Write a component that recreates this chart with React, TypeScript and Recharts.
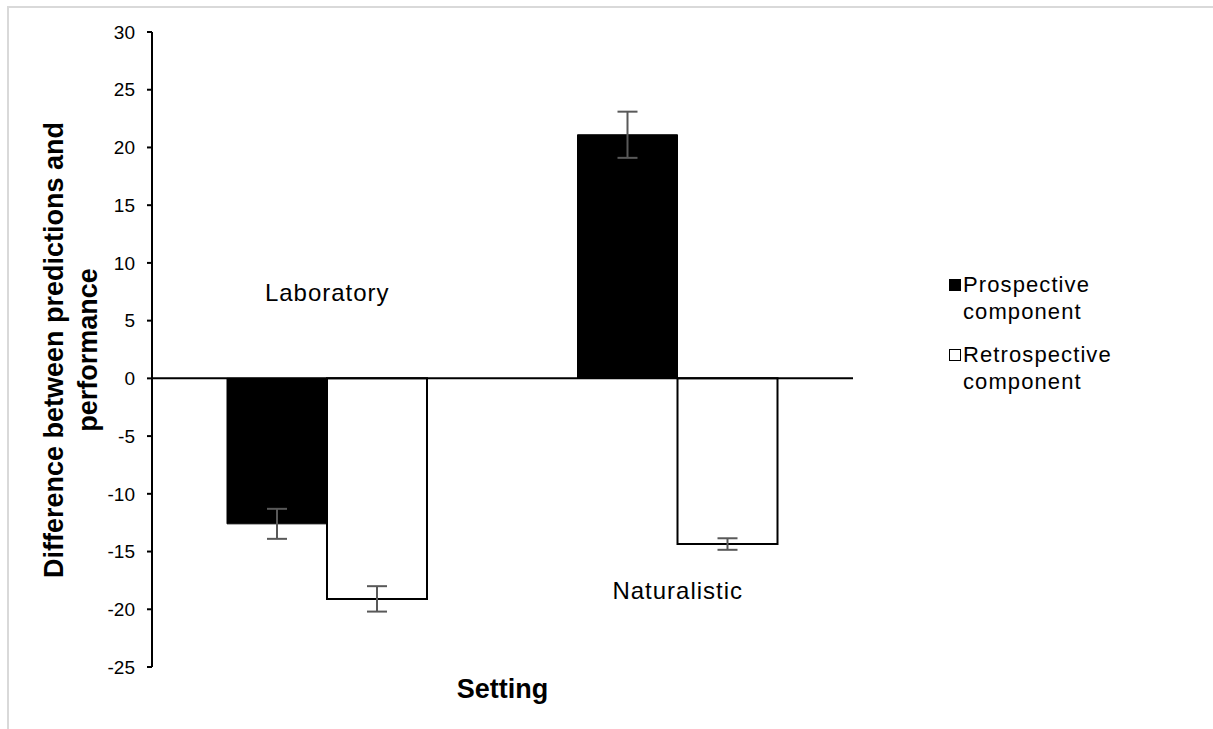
import React from 'react';
import {
  BarChart,
  Bar,
  XAxis,
  YAxis,
  ErrorBar,
  ReferenceLine,
  ReferenceDot,
} from 'recharts';

// ─── Data ─────────────────────────────────────────────────────────────────────

const settings = ['Laboratory', 'Naturalistic'];
const prospective = [-12.6, 21.1];
const prospectiveErr = [1.3, 2.0];
const retrospective = [-19.1, -14.35];
const retrospectiveErr = [1.1, 0.5];
const yTicks = [30, 25, 20, 15, 10, 5, 0, -5, -10, -15, -20, -25];

const seriesNames = ['Prospective component', 'Retrospective component'];

const data = settings.map((s, i) => ({
  setting: s,
  pro: prospective[i],
  proErr: prospectiveErr[i],
  retro: retrospective[i],
  retroErr: retrospectiveErr[i],
}));

const FONT = '"Liberation Sans", Arial, sans-serif';

// ─── Axis title ───────────────────────────────────────────────────────────────

function YTitle() {
  const common = {
    textAnchor: 'middle' as const,
    dominantBaseline: 'central' as const,
    fontFamily: FONT,
    fontWeight: 700,
    fontSize: 27,
    fill: '#000',
  };
  return (
    <g>
      <text x={54} y={350} transform="rotate(-90 54 350)" {...common}>
        Difference between predictions and
      </text>
      <text x={88} y={350} transform="rotate(-90 88 350)" {...common}>
        performance
      </text>
    </g>
  );
}

// ─── Legend ───────────────────────────────────────────────────────────────────

function LegendBox() {
  const fills = ['#000', '#fff'];
  return (
    <div
      style={{
        position: 'absolute',
        left: 949,
        top: 271,
        fontFamily: FONT,
        fontSize: 22,
        letterSpacing: 1.1,
        color: '#000',
      }}
    >
      {seriesNames.map((name, i) => {
        const [first, second] = name.split(' ');
        return (
          <div
            key={name}
            style={{ display: 'flex', alignItems: 'flex-start', marginBottom: i === 0 ? 16 : 0 }}
          >
            <div
              style={{
                width: 10,
                height: 10,
                marginTop: 8,
                marginRight: 2,
                background: fills[i],
                border: '1.5px solid #000',
              }}
            />
            <div style={{ lineHeight: '27px' }}>
              <div>{first}</div>
              <div>{second}</div>
            </div>
          </div>
        );
      })}
    </div>
  );
}

// ─── Chart ────────────────────────────────────────────────────────────────────

const labelStyle = { fontFamily: FONT, fontSize: 24, letterSpacing: 1, fill: '#000' };

export default function App() {
  return (
    <div style={{ position: 'absolute', left: 0, top: 0, width: 1213, height: 729, background: '#fff' }}>
      <div
        style={{
          position: 'absolute',
          left: 7,
          top: 6,
          width: 1206,
          height: 723,
          borderTop: '2px solid #d9d9d9',
          borderLeft: '2px solid #d9d9d9',
          boxSizing: 'border-box',
        }}
      />
      <BarChart
        width={1213}
        height={729}
        data={data}
        margin={{ top: 32, right: 360, bottom: 0, left: 0 }}
        barSize={100}
        barGap={0}
        style={{ position: 'absolute', left: 0, top: 0 }}
      >
        <XAxis
          dataKey="setting"
          height={62}
          axisLine={false}
          tickLine={false}
          tick={false}
          label={{
            value: 'Setting',
            position: 'insideTop',
            offset: 12,
            style: { fontFamily: FONT, fontWeight: 700, fontSize: 27, fill: '#000' },
          }}
        />
        <YAxis
          width={152}
          domain={[-25, 30]}
          ticks={yTicks}
          interval={0}
          axisLine={{ stroke: '#000', strokeWidth: 2 }}
          tickLine={{ stroke: '#000', strokeWidth: 2 }}
          tickSize={5}
          tickMargin={12}
          tick={{ fontFamily: FONT, fontSize: 19, fill: '#000' }}
          label={{ content: () => <YTitle /> }}
        />
        <Bar dataKey="pro" name={seriesNames[0]} fill="#000" stroke="#000" isAnimationActive={false}>
          <ErrorBar dataKey="proErr" width={10} stroke="#595959" strokeWidth={2} direction="y" />
        </Bar>
        <Bar
          dataKey="retro"
          name={seriesNames[1]}
          fill="#fff"
          stroke="#000"
          strokeWidth={2}
          isAnimationActive={false}
        >
          <ErrorBar dataKey="retroErr" width={10} stroke="#595959" strokeWidth={2} direction="y" />
        </Bar>
        <ReferenceLine y={0} stroke="#000" strokeWidth={2} />
        <ReferenceDot
          x="Laboratory"
          y={7.4}
          r={0}
          stroke="none"
          label={{ value: 'Laboratory', position: 'center', style: labelStyle }}
        />
        <ReferenceDot
          x="Naturalistic"
          y={-18.4}
          r={0}
          stroke="none"
          label={{ value: 'Naturalistic', position: 'center', style: labelStyle }}
        />
      </BarChart>
      <LegendBox />
    </div>
  );
}
